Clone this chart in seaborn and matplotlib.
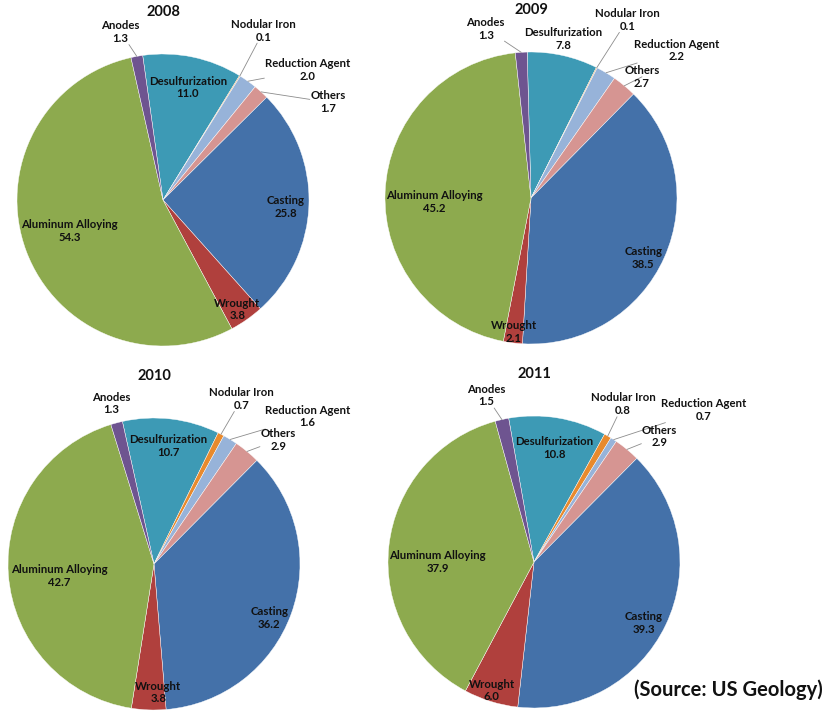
import matplotlib
matplotlib.use("Agg")
import matplotlib.pyplot as plt
import numpy as np
import seaborn as sns

# categories in the order the slices run (clockwise)
categories = ["Desulfurization", "Nodular Iron", "Reduction Agent", "Others",
              "Casting", "Wrought", "Aluminum Alloying", "Anodes"]

years = ["2008", "2009", "2010", "2011"]
share_2008 = [11.0, 0.1, 2.0, 1.7, 25.8, 3.8, 54.3, 1.3]
share_2009 = [7.8, 0.1, 2.2, 2.7, 38.5, 2.1, 45.2, 1.3]
share_2010 = [10.7, 0.7, 1.6, 2.9, 36.2, 3.8, 42.7, 1.3]
share_2011 = [10.8, 0.8, 0.7, 2.9, 39.3, 6.0, 37.9, 1.5]
shares = [share_2008, share_2009, share_2010, share_2011]

# layout (pixels): pie centre, first-slice angle
centres = [(163, 200), (531, 198), (154, 564), (534, 562)]
start_angles = [98, 91.5, 102.5, 100]
radius_px = 146

# label positions in pie-radius units, and whether a leader line is drawn
label_pos = [
    [(0.17, 0.77, False), (0.69, 1.16, True), (0.99, 0.89, True), (1.13, 0.67, True),
     (0.84, -0.05, False), (0.51, -0.75, False), (-0.64, -0.21, False), (-0.29, 1.15, True)],
    [(0.22, 1.09, False), (0.66, 1.22, True), (1.00, 1.01, True), (0.76, 0.83, True),
     (0.77, -0.41, False), (-0.12, -0.92, False), (-0.66, -0.03, False), (-0.31, 1.16, True)],
    [(0.10, 0.81, False), (0.60, 1.13, True), (1.05, 1.01, True), (0.85, 0.85, True),
     (0.79, -0.37, False), (0.03, -0.88, False), (-0.65, -0.08, False), (-0.29, 1.10, False)],
    [(0.14, 0.78, False), (0.61, 1.08, True), (1.16, 1.04, True), (0.86, 0.86, True),
     (0.75, -0.42, False), (-0.29, -0.88, False), (-0.66, 0.00, False), (-0.33, 1.14, True)],
]

sns.set_theme(style="white")
plt.rcParams['font.family'] = ['Lato', 'DejaVu Sans']
palette = sns.color_palette(["#3d9ab5", "#e88a2d", "#97b3d9", "#d69592",
                             "#4471a9", "#b0403d", "#8daa4e", "#6e5490"])

W, H = 836, 715
fig = plt.figure(figsize=(W / 100, H / 100), dpi=100)
fig.patch.set_facecolor("white")

lim = 1.45
for year, vals, (cx, cy), sa, pos in zip(years, shares, centres, start_angles, label_pos):
    size = 2 * lim * radius_px
    ax = fig.add_axes([(cx - lim * radius_px) / W, (H - cy - lim * radius_px) / H,
                       size / W, size / H])
    ax.set_facecolor("none")
    wedges, _ = ax.pie(vals, colors=palette, startangle=sa, counterclock=False,
                       radius=1.0, wedgeprops=dict(edgecolor="white", linewidth=0.3))
    ax.set_xlim(-lim, lim)
    ax.set_ylim(-lim, lim)
    ax.set_aspect("equal")
    ax.axis("off")
    ax.text(0, 1.29, year, ha="center", va="center", fontsize=10.5,
            fontweight="bold", color="#111111")
    for w, name, v, (lx, ly, leader) in zip(wedges, categories, vals, pos):
        txt = f"{name}\n{v:.1f}"
        if leader:
            mid = np.deg2rad((w.theta1 + w.theta2) / 2)
            ax.annotate(txt, xy=(np.cos(mid), np.sin(mid)), xytext=(lx, ly),
                        ha="center", va="center", fontsize=8.2, fontweight="bold",
                        color="#111111", linespacing=1.2, annotation_clip=False,
                        bbox=dict(boxstyle="square,pad=0.05", fc="none", ec="none"),
                        arrowprops=dict(arrowstyle="-", color="#8c8c8c", lw=0.6,
                                        shrinkA=0, shrinkB=0))
        else:
            ax.text(lx, ly, txt, ha="center", va="center", fontsize=8.2,
                    fontweight="bold", color="#111111", linespacing=1.2)

fig.text(728 / W, 1 - 690 / H, "(Source: US Geology)", ha="center", va="center",
         fontsize=14.5, fontweight="bold", color="#111111")

fig.savefig("out.png", dpi=100, facecolor="white")
